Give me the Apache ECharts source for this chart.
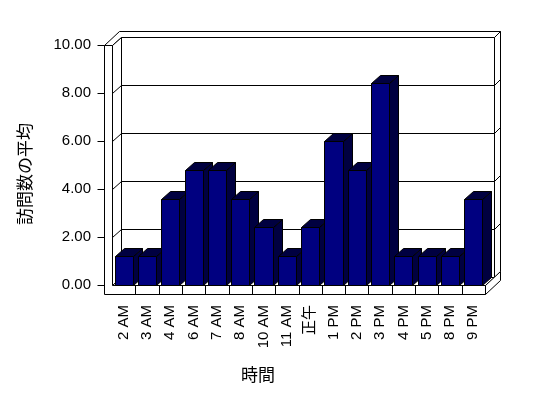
<!DOCTYPE html>
<html>
<head>
<meta charset="utf-8">
<script src="https://cdn.jsdelivr.net/npm/echarts@6/dist/echarts.min.js"></script>
<style>html,body{margin:0;padding:0;background:#fff;}#chart{width:548px;height:398px;}</style>
</head>
<body>
<div id="chart"></div>
<script>
// ---- data ----
const categories = ['2 AM','3 AM','4 AM','6 AM','7 AM','8 AM','10 AM','11 AM','正午','1 PM','2 PM','3 PM','4 PM','5 PM','8 PM','9 PM'];
const visits = [1.2, 1.2, 3.6, 4.8, 4.8, 3.6, 2.4, 1.2, 2.4, 6.0, 4.8, 8.4, 1.2, 1.2, 1.2, 3.6];
const yMin = 0, yMax = 10, yStep = 2;
const xTitle = '時間';
const yTitle = '訪問数の平均';

// ---- styling helpers ----
const FONT = '"Liberation Sans","Noto Sans CJK JP",sans-serif';
const DX = 9, DY = -8;     // depth of plot box
const EX = 6, EY = -6;     // back wall thickness
const WT = 8, FT = 9;      // left wall / floor thickness
const p = v => Math.round(v) + 0.5;
const DARK = '#000040';

function poly(pts, fill) {
  return {type:'polygon', shape:{points: pts.map(q => [p(q[0]), p(q[1])])},
          style:{fill: fill || '#fff', stroke:'#000', lineWidth:1}};
}
function line(x1,y1,x2,y2) {
  return {type:'line', shape:{x1:p(x1),y1:p(y1),x2:p(x2),y2:p(y2)}, style:{stroke:'#000', lineWidth:1}};
}

function renderFrame(params, api) {
  const cs = params.coordSys;
  const xL = cs.x, xR = cs.x + cs.width;
  const yT = api.coord([0, yMax])[1], y0 = api.coord([0, yMin])[1];
  const band = api.size([1, 0])[0];
  const ch = [];
  ch.push(poly([[xL+DX,yT+DY],[xR+DX,yT+DY],[xR+DX,y0+DY],[xL+DX,y0+DY]]));
  ch.push(poly([[xR+DX,yT+DY],[xR+DX+EX,yT+DY+EY],[xR+DX+EX,y0+DY+EY],[xR+DX,y0+DY]]));
  ch.push(poly([[xL-WT,yT],[xL,yT],[xL+DX,yT+DY],[xR+DX,yT+DY],[xR+DX+EX,yT+DY+EY],[xL-WT+DX+EX,yT+DY+EY]]));
  ch.push(poly([[xL,yT],[xL+DX,yT+DY],[xL+DX,y0+DY],[xL,y0]]));
  ch.push(poly([[xL,y0],[xR,y0],[xR+DX,y0+DY],[xL+DX,y0+DY]]));
  ch.push(poly([[xR,y0],[xR+DX+EX,y0+DY+EY],[xR+DX+EX,y0+FT+DY+EY],[xR,y0+FT]]));
  ch.push(poly([[xL-WT,yT],[xL,yT],[xL,y0],[xR,y0],[xR,y0+FT],[xL-WT,y0+FT]]));
  for (let v = yMin; v <= yMax + 1e-9; v += yStep) {
    const y = api.coord([0, v])[1];
    ch.push(line(xL-WT-7, y, xL-WT, y));
    if (v > yMin && v < yMax) {
      ch.push(line(xL, y, xL+DX, y+DY));
      ch.push(line(xL+DX, y+DY, xR+DX, y+DY));
      ch.push(line(xR+DX, y+DY, xR+DX+EX, y+DY+EY));
    }
  }
  for (let i = 1; i < categories.length; i++) {
    const x = xL + i * band;
    ch.push(line(x, y0, x, y0+FT));
  }
  return {type:'group', children: ch};
}

function renderBar(params, api) {
  const i = api.value(0), v = api.value(1);
  const top = api.coord([i, v]);
  const base = api.coord([i, 0]);
  const bw = api.size([1, 0])[0] * 0.78;
  const x0 = top[0] - bw/2, x1 = top[0] + bw/2;
  const yt = top[1], yb = base[1];
  return {type:'group', children:[
    poly([[x1,yt],[x1+DX,yt+DY],[x1+DX,yb+DY],[x1,yb]], DARK),
    poly([[x0,yt],[x1,yt],[x1+DX,yt+DY],[x0+DX,yt+DY]], DARK),
    poly([[x0,yt],[x1,yt],[x1,yb],[x0,yb]], '#000080')
  ]};
}

const chart = echarts.init(document.getElementById('chart'), null, {renderer:'canvas'});
chart.setOption({
  animation: false,
  backgroundColor: '#fff',
  grid: {left: 112, right: 63, top: 45, bottom: 113, containLabel: false},
  xAxis: {
    type: 'category', data: categories,
    axisLine: {show:false}, axisTick: {show:false}, splitLine: {show:false},
    axisLabel: {interval: 0, rotate: 90, margin: 20, color: '#000', fontSize: 15, fontFamily: FONT}
  },
  yAxis: {
    type: 'value', min: yMin, max: yMax, interval: yStep,
    axisLine: {show:false}, axisTick: {show:false}, splitLine: {show:false},
    axisLabel: {margin: 21, color: '#000', fontSize: 15, fontFamily: FONT, formatter: v => v.toFixed(2)}
  },
  graphic: [
    {type:'text', x: 258, y: 376, style:{text: xTitle, font: '17px ' + FONT, fill:'#000', textAlign:'center', textVerticalAlign:'middle'}},
    {type:'text', x: 26, y: 174, rotation: Math.PI/2, style:{text: yTitle, font: '17px ' + FONT, fill:'#000', textAlign:'center', textVerticalAlign:'middle'}}
  ],
  series: [
    {type:'custom', renderItem: renderFrame, data: [[0, 0]], clip: false, silent: true, z: 1},
    {type:'custom', renderItem: renderBar, data: visits.map((v, i) => [i, v]), clip: false, z: 2}
  ]
});
</script>
</body>
</html>
